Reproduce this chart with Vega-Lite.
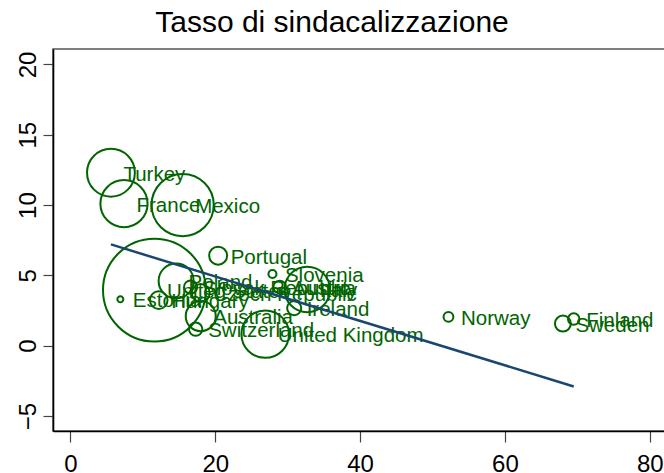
{
  "$schema": "https://vega.github.io/schema/vega-lite/v6.json",
  "autosize": {"type": "none"},
  "padding": {"left": 53, "top": 49, "right": 0, "bottom": 42},
  "width": 612,
  "height": 382,
  "background": "white",
  "config": {
    "view": {"stroke": "#555555", "strokeWidth": 1.5},
    "font": "Liberation Sans"
  },
  "title": {
    "text": "Tasso di sindacalizzazione",
    "fontSize": 30,
    "fontWeight": "normal",
    "font": "Liberation Sans",
    "color": "black",
    "anchor": "middle",
    "dx": -27,
    "dy": 30,
    "baseline": "alphabetic",
    "offset": 17
  },
  "datasets": {
    "countries": [
      {"country": "Turkey", "union": 5.6, "value": 12.3, "weight": 71},
      {"country": "France", "union": 7.4, "value": 10.1, "weight": 69},
      {"country": "Mexico", "union": 15.5, "value": 10.0, "weight": 120},
      {"country": "Portugal", "union": 20.4, "value": 6.4, "weight": 10},
      {"country": "Slovenia", "union": 27.9, "value": 5.1, "weight": 2.0},
      {"country": "Estonia", "union": 6.9, "value": 3.3, "weight": 1.1},
      {"country": "United States", "union": 11.6, "value": 3.95, "weight": 328},
      {"country": "Poland", "union": 14.6, "value": 4.6, "weight": 38},
      {"country": "Hungary", "union": 12.2, "value": 3.24, "weight": 9.7},
      {"country": "Czech Republic", "union": 18.0, "value": 3.74, "weight": 10},
      {"country": "Slovak Republic", "union": 16.6, "value": 4.17, "weight": 5.4},
      {"country": "Austria", "union": 28.9, "value": 4.17, "weight": 5},
      {"country": "Italy", "union": 32.7, "value": 4.0, "weight": 64},
      {"country": "Ireland", "union": 30.9, "value": 2.67, "weight": 6.2},
      {"country": "Australia", "union": 18.0, "value": 2.1, "weight": 28},
      {"country": "Switzerland", "union": 17.3, "value": 1.17, "weight": 5.5},
      {"country": "United Kingdom", "union": 26.9, "value": 0.82, "weight": 70},
      {"country": "Norway", "union": 52.2, "value": 2.05, "weight": 3.0},
      {"country": "Sweden", "union": 68.0, "value": 1.57, "weight": 7.9},
      {"country": "Finland", "union": 69.5, "value": 1.89, "weight": 4.1}
    ],
    "fit": [
      {"union": 5.6, "fitted": 7.2},
      {"union": 69.5, "fitted": -2.9}
    ]
  },
  "layer": [
    {
      "data": {"name": "countries"},
      "mark": {"type": "point", "shape": "circle", "filled": false, "stroke": "#006400", "strokeWidth": 2, "opacity": 1},
      "encoding": {
        "x": {
          "field": "union", "type": "quantitative",
          "scale": {"domain": [-2.4, 82.1], "nice": false, "zero": false},
          "axis": {
            "values": [0, 20, 40, 60, 80], "title": null, "grid": false,
            "domainColor": "black", "domainWidth": 1.6,
            "tickColor": "#444444", "tickSize": 11, "tickWidth": 1.2,
            "labelFontSize": 24, "labelColor": "black", "labelPadding": 10,
            "labelFont": "Liberation Sans", "labelFlush": false, "labelOverlap": false
          }
        },
        "y": {
          "field": "value", "type": "quantitative",
          "scale": {"domain": [-6.07, 21.1], "nice": false, "zero": false},
          "axis": {
            "values": [-5, 0, 5, 10, 15, 20], "title": null, "grid": false,
            "domainColor": "black", "domainWidth": 1.6,
            "tickColor": "#444444", "tickSize": 10, "tickWidth": 1.2,
            "labelFontSize": 24, "labelColor": "black", "labelPadding": 3,
            "labelAngle": -90, "labelAlign": "center", "labelBaseline": "bottom",
            "labelFont": "Liberation Sans", "labelFlush": false, "labelOverlap": false
          }
        },
        "size": {
          "field": "weight", "type": "quantitative", "legend": null,
          "scale": {"type": "linear", "domain": [0, 328], "range": [0, 10568], "zero": true}
        }
      }
    },
    {
      "data": {"name": "countries"},
      "mark": {"type": "text", "align": "left", "baseline": "middle", "dx": 12.5, "dy": 2, "fontSize": 20.5, "font": "Liberation Sans", "color": "#006400"},
      "encoding": {
        "x": {"field": "union", "type": "quantitative"},
        "y": {"field": "value", "type": "quantitative"},
        "text": {"field": "country"}
      }
    },
    {
      "data": {"name": "fit"},
      "mark": {"type": "line", "color": "#1a476f", "strokeWidth": 2.5},
      "encoding": {
        "x": {"field": "union", "type": "quantitative"},
        "y": {"field": "fitted", "type": "quantitative"}
      }
    }
  ]
}
